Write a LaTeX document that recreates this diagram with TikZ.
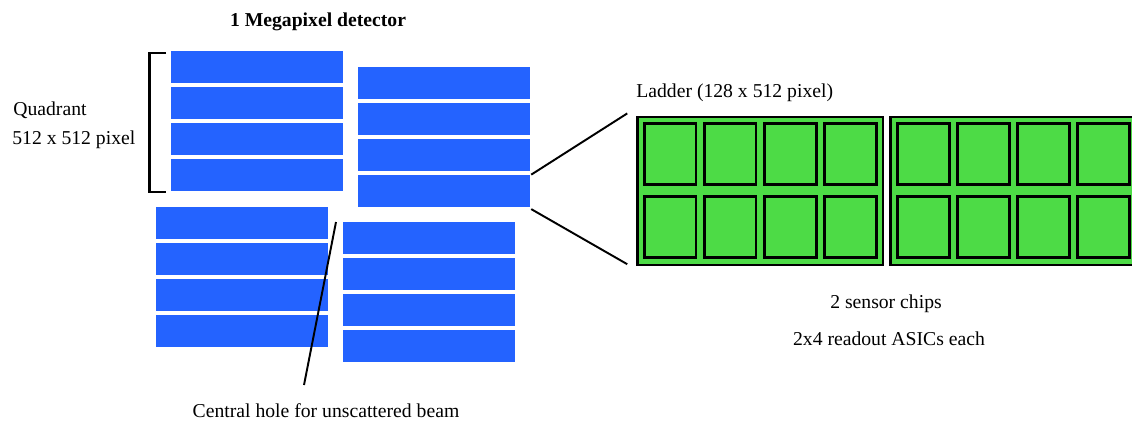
\documentclass[tikz,border=0pt]{standalone}
\usepackage{fontspec}
\setmainfont{Liberation Serif}
\usetikzlibrary{positioning}

\definecolor{barblue}{RGB}{36,99,255}
\definecolor{chipgreen}{RGB}{77,219,70}

\begin{document}
\begin{tikzpicture}[x=0.02cm,y=-0.02cm,
	bar/.style={rectangle,fill=barblue,inner sep=0pt,minimum width=3.44cm,minimum height=0.64cm},
	sensor/.style={rectangle,draw=black,fill=chipgreen,line width=1.4pt,inner sep=0pt,minimum width=4.91cm,minimum height=2.95cm},
	asic/.style={rectangle,draw=black,fill=chipgreen,line width=1.7pt,inner sep=0pt,minimum width=1.04cm,minimum height=1.22cm},
	lbl/.style={font=\fontsize{11.2}{13}\selectfont,inner sep=0pt},
	link/.style={line width=1.1pt}]
	
	\clip (0,0) rectangle (1132,423);
	
	% four quadrants, four ladders each
	\foreach \q/\x/\y in {1/257/67, 2/444/83, 3/242/223, 4/429/238}
		\foreach \i in {1,...,4}
			\node[bar] (q\q\i) at (\x,\y+36*\i-36) {};
	
	% bracket round the first quadrant
	\draw[line width=1.4pt] (166,53) -| (149.5,192) -- (166,192);
	
	% one ladder: two sensors with 2x4 ASICs
	\foreach \c/\cx in {1/760, 2/1013} {
		\node[sensor] (chip\c) at (\cx,191) {};
		\foreach \r/\ry in {1/154, 2/227}
			\foreach \k in {1,...,4}
				\node[asic] (asic\c\r\k) at (\cx-150+60*\k,\ry) {};
	}
	
	\draw[link] ([xshift=0.5pt]q24.north east) -- ([xshift=-5pt,yshift=1.5pt]chip1.north west);
	\draw[link] ([xshift=0.5pt,yshift=-1pt]q24.south east) -- ([xshift=-5pt,yshift=1pt]chip1.south west);
	
	% labels
	\node[lbl,font=\fontsize{11.2}{13}\selectfont\bfseries,anchor=base] (title) at (318,26) {1 Megapixel detector};
	\node[lbl,anchor=base west] (quad) at (13,115) {Quadrant};
	\node[lbl,anchor=base west] (quadpix) at (12,144) {512 x 512 pixel};
	\node[lbl,anchor=base west] (ladder) at (636,97) {Ladder (128 x 512 pixel)};
	\node[lbl,anchor=base] (chips) at (886,308) {2 sensor chips};
	\node[lbl,anchor=base] (asics) at (889,345) {2x4 readout ASICs each};
	\node[lbl,anchor=base] (beam) at (326,417) {Central hole for unscattered beam};
	
	% pointer to the central hole
	\coordinate (hole) at (336,222);
	\coordinate (beamend) at (304,385);
	\draw[link] (hole) -- (beamend);
	
\end{tikzpicture}
\end{document}
